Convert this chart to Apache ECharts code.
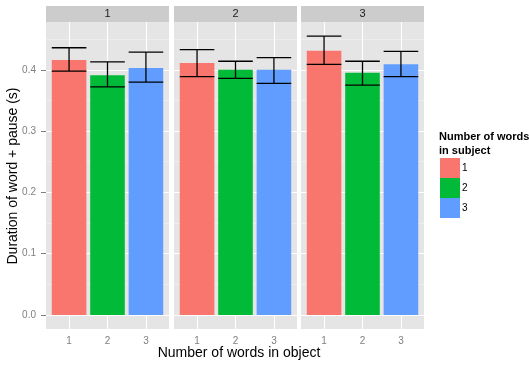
<!DOCTYPE html>
<html><head><meta charset="utf-8">
<script src="https://cdn.jsdelivr.net/npm/echarts@6/dist/echarts.min.js"></script>
<style>html,body{margin:0;padding:0;background:#fff}#c{width:529px;height:365px}</style>
</head><body><div id="c"></div>
<script>
// Facet panel labels
const panels = ['1', '2', '3'];
// x categories: number of words in object
const objCats = [1, 2, 3];
// Legend: number of words in subject
const subjCats = ['1', '2', '3'];
const colors = ['#F8766D', '#00BA38', '#619CFF'];
// means per panel (rows) per category (cols)
const means = [
  [0.416, 0.391, 0.403],
  [0.411, 0.400, 0.400],
  [0.431, 0.395, 0.409]
];
const lower = [
  [0.398, 0.372, 0.380],
  [0.389, 0.386, 0.378],
  [0.409, 0.375, 0.389]
];
const upper = [
  [0.436, 0.413, 0.429],
  [0.433, 0.414, 0.420],
  [0.455, 0.414, 0.430]
];
const yTicks = [0, 0.1, 0.2, 0.3, 0.4];
const yMinor = [0.05, 0.15, 0.25, 0.35, 0.45];

const chart = echarts.init(document.getElementById('c'));
const panelLeft = [46, 174, 301];
const panelW = 123, plotTop = 22, plotH = 307;
const FONT = 'Liberation Sans, Arial, sans-serif';

const grids = [], xAxes = [], yAxes = [], series = [], graphics = [];
panels.forEach((p, i) => {
  grids.push({left: panelLeft[i], top: plotTop, width: panelW, height: plotH, show: true, backgroundColor: '#E5E5E5', borderWidth: 0});
  xAxes.push({
    type: 'value', gridIndex: i, min: 0.4, max: 3.6,
    axisLine: {show: false}, splitLine: {show: false},
    axisTick: {show: true, length: 4, customValues: objCats, lineStyle: {color: '#7F7F7F'}},
    axisLabel: {customValues: objCats, color: '#7F7F7F', fontSize: 10, fontFamily: FONT, margin: 7}
  });
  yAxes.push({
    type: 'value', gridIndex: i, min: -0.0229, max: 0.478,
    axisLine: {show: false}, splitLine: {show: false},
    axisTick: {show: i === 0, length: 5, customValues: yTicks, lineStyle: {color: '#7F7F7F'}},
    axisLabel: {show: i === 0, customValues: yTicks, color: '#7F7F7F', fontSize: 10, fontFamily: FONT, margin: 10,
      formatter: v => v.toFixed(1)}
  });
  series.push({
    type: 'line', xAxisIndex: i, yAxisIndex: i, data: [], silent: true, z: 1,
    markLine: {
      z: 1, silent: true, symbol: 'none', label: {show: false}, animation: false,
      data: yMinor.map(v => ({yAxis: v, lineStyle: {color: '#F2F2F2', width: 0.6, type: 'solid'}}))
        .concat(yTicks.map(v => ({yAxis: v, lineStyle: {color: '#FFFFFF', width: 1.1, type: 'solid'}})))
        .concat(objCats.map(v => ({xAxis: v, lineStyle: {color: '#FFFFFF', width: 1.1, type: 'solid'}})))
    }
  });
  subjCats.forEach((s, j) => {
    series.push({
      type: 'custom', name: s, xAxisIndex: i, yAxisIndex: i, z: 8,
      itemStyle: {color: colors[j]},
      encode: {x: 0, y: 1},
      data: [[objCats[j], means[i][j]]],
      renderItem: (params, api) => {
        const x = api.value(0), y = api.value(1);
        const a = api.coord([x - 0.45, y]), b = api.coord([x + 0.45, 0]);
        return {type: 'rect', shape: {x: a[0], y: a[1], width: b[0] - a[0], height: b[1] - a[1]},
          style: {fill: api.visual('color')}};
      }
    });
  });
  series.push({
    type: 'custom', xAxisIndex: i, yAxisIndex: i, z: 10, silent: true,
    encode: {x: 0, y: [1, 2]},
    data: objCats.map((c, j) => [c, lower[i][j], upper[i][j]]),
    renderItem: (params, api) => {
      const x = api.value(0), lo = api.value(1), hi = api.value(2);
      const l1 = api.coord([x - 0.45, lo]), l2 = api.coord([x + 0.45, lo]);
      const h1 = api.coord([x - 0.45, hi]), h2 = api.coord([x + 0.45, hi]);
      const c = api.coord([x, lo]), d = api.coord([x, hi]);
      const st = {stroke: '#000', lineWidth: 1.3};
      return {type: 'group', children: [
        {type: 'line', shape: {x1: l1[0], y1: l1[1], x2: l2[0], y2: l2[1]}, style: st},
        {type: 'line', shape: {x1: h1[0], y1: h1[1], x2: h2[0], y2: h2[1]}, style: st},
        {type: 'line', shape: {x1: c[0], y1: c[1], x2: d[0], y2: d[1]}, style: st}
      ]};
    }
  });
  graphics.push({type: 'rect', x: panelLeft[i], y: 6, shape: {width: panelW, height: 16}, style: {fill: '#CCCCCC'}, silent: true});
  graphics.push({type: 'text', x: panelLeft[i] + panelW / 2, y: 14,
    style: {text: p, fill: '#1A1A1A', font: '11px ' + FONT, align: 'center', verticalAlign: 'middle'}});
});

graphics.push({type: 'text', x: 239, y: 353,
  style: {text: 'Number of words in object', fill: '#000', font: '14px ' + FONT, align: 'center', verticalAlign: 'middle'}});
graphics.push({type: 'text', x: 13, y: 176, rotation: Math.PI / 2,
  style: {text: 'Duration of word + pause (s)', fill: '#000', font: '14px ' + FONT, align: 'center', verticalAlign: 'middle'}});
graphics.push({type: 'text', x: 439, y: 130,
  style: {text: 'Number of words\nin subject', fill: '#000', font: 'bold 11px ' + FONT, lineHeight: 14}});

chart.setOption({
  animation: false,
  grid: grids, xAxis: xAxes, yAxis: yAxes, series: series,
  graphic: graphics,
  legend: {
    orient: 'vertical', left: 440, top: 158, padding: 0, itemWidth: 20, itemGap: 0, itemHeight: 20,
    icon: 'rect', selectedMode: false,
    textStyle: {fontSize: 10, color: '#000', fontFamily: FONT, padding: [0, 0, 0, -3]},
    data: subjCats.map((s, j) => ({name: s, itemStyle: {color: colors[j]}}))
  }
});
</script></body></html>
